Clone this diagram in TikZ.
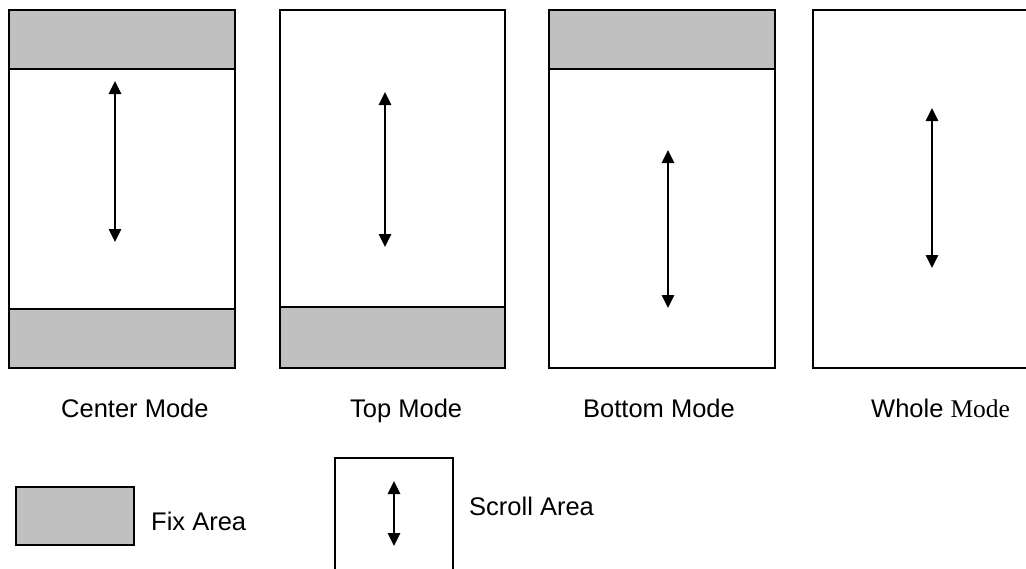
\documentclass[tikz,border=0pt]{standalone}
\usepackage{fontspec}
\setmainfont{Liberation Sans}
\newfontfamily\serifface{Liberation Serif}
\usetikzlibrary{arrows.meta}
\begin{document}
\begin{tikzpicture}[x=1pt,y=-1pt,
  panel/.style={draw=black,line width=1.3pt,fill=white},
  fixband/.style={draw=black,line width=1.3pt,fill=fixgray},
  scrollarrow/.style={line width=2.6pt,{Triangle[width=12pt,length=13pt]}-{Triangle[width=12pt,length=13pt]}},
  lbl/.style={font=\fontsize{25.5pt}{30pt}\selectfont,anchor=base west,inner sep=0pt}
]
\definecolor{fixgray}{HTML}{C0C0C0}
\useasboundingbox (0,0) rectangle (1026,568);
% Panel 1: Center Mode
\draw[panel] (9,10) rectangle (235,368);
\draw[fixband] (9,10) rectangle (235,69);
\draw[fixband] (9,309) rectangle (235,368);
\coordinate (c1a) at (115,81);
\coordinate (c1b) at (115,242);
\draw[scrollarrow] (c1a) -- (c1b);
\node[lbl] (l1) at (61,417) {Center Mode};
% Panel 2: Top Mode
\draw[panel] (280,10) rectangle (505,368);
\draw[fixband] (280,307) rectangle (505,368);
\coordinate (c2a) at (385,92);
\coordinate (c2b) at (385,247);
\draw[scrollarrow] (c2a) -- (c2b);
\node[lbl] (l2) at (350,417) {Top Mode};
% Panel 3: Bottom Mode
\draw[panel] (549,10) rectangle (775,368);
\draw[fixband] (549,10) rectangle (775,69);
\coordinate (c3a) at (668,150);
\coordinate (c3b) at (668,308);
\draw[scrollarrow] (c3a) -- (c3b);
\node[lbl] (l3) at (583,417) {Bottom Mode};
% Panel 4: Whole Mode
\draw[panel] (813,10) rectangle (1039,368);
\coordinate (c4a) at (932,108);
\coordinate (c4b) at (932,268);
\draw[scrollarrow] (c4a) -- (c4b);
\node[lbl] (l4) at (871,417) {Whole {\serifface Mode}};
% Legend
\draw[fixband] (16,487) rectangle (134,545);
\node[lbl] (lf) at (151,530) {Fix Area};
\draw[panel] (335,458) rectangle (453,580);
\coordinate (c5a) at (394,481);
\coordinate (c5b) at (394,546);
\draw[scrollarrow] (c5a) -- (c5b);
\node[lbl] (ls) at (469,515) {Scroll Area};
\end{tikzpicture}
\end{document}
